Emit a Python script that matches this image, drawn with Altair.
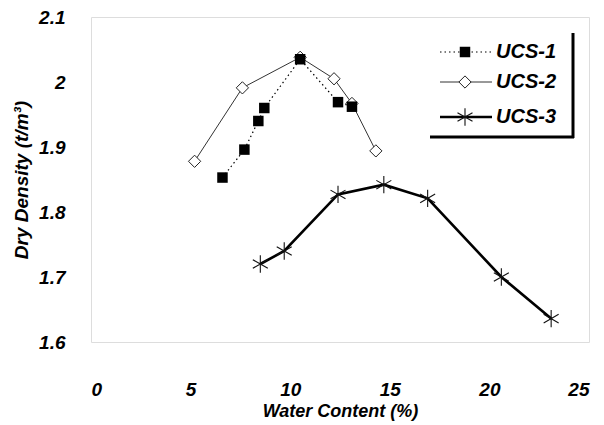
import altair as alt
import pandas as pd

# ---- data ----
ucs1_w = [6.6, 7.7, 8.4, 8.7, 10.5, 12.4, 13.1]
ucs1_d = [1.853, 1.896, 1.940, 1.960, 2.035, 1.969, 1.962]
ucs2_w = [5.2, 7.6, 10.5, 12.2, 13.1, 14.3]
ucs2_d = [1.878, 1.991, 2.038, 2.005, 1.967, 1.894]
ucs3_w = [8.5, 9.7, 12.4, 14.7, 16.9, 20.6, 23.1]
ucs3_d = [1.720, 1.740, 1.827, 1.842, 1.821, 1.700, 1.636]

x_ticks = [0, 5, 10, 15, 20, 25]
y_ticks = [1.6, 1.7, 1.8, 1.9, 2.0, 2.1]
series_names = ["UCS-1", "UCS-2", "UCS-3"]

FONT = "Liberation Sans"
STAR = "M0,-1L0,1M-0.866,-0.5L0.866,0.5M-0.866,0.5L0.866,-0.5"

d1 = pd.DataFrame({"w": ucs1_w, "d": ucs1_d, "i": range(len(ucs1_w))})
d2 = pd.DataFrame({"w": ucs2_w, "d": ucs2_d, "i": range(len(ucs2_w))})
d3 = pd.DataFrame({"w": ucs3_w, "d": ucs3_d, "i": range(len(ucs3_w))})

W, H = 498, 325

xs = alt.X("w:Q", scale=alt.Scale(domain=[0, 25], nice=False),
           axis=alt.Axis(values=x_ticks, title="Water Content (%)", grid=False,
                         ticks=False, domain=False, labelPadding=38,
                         labelFont=FONT, labelFontSize=19, labelFontWeight="bold",
                         labelFontStyle="italic", labelColor="black",
                         titleFont=FONT, titleFontSize=18, titleFontWeight="bold",
                         titleFontStyle="italic", titleColor="black", titlePadding=3))
ys = alt.Y("d:Q", scale=alt.Scale(domain=[1.6, 2.1], nice=False, zero=False),
           axis=alt.Axis(values=y_ticks, format="~g", title="Dry Density (t/m³)",
                         grid=False, ticks=False, domain=False, labelPadding=26,
                         labelFont=FONT, labelFontSize=19, labelFontWeight="bold",
                         labelFontStyle="italic", labelColor="black",
                         titleFont=FONT, titleFontSize=19, titleFontWeight="bold",
                         titleFontStyle="italic", titleColor="black", titlePadding=7))

l1 = alt.Chart(d1).mark_line(color="black", strokeWidth=1.2, strokeDash=[1.5, 3]).encode(x=xs, y=ys, order="i:Q")
p1 = alt.Chart(d1).mark_point(shape="square", filled=True, color="black", size=110, opacity=1).encode(x="w:Q", y="d:Q")
l2 = alt.Chart(d2).mark_line(color="#333333", strokeWidth=1).encode(x="w:Q", y="d:Q", order="i:Q")
p2 = alt.Chart(d2).mark_point(shape="diamond", filled=True, fill="white", stroke="#222222", strokeWidth=1, size=150, opacity=1).encode(x="w:Q", y="d:Q")
l3 = alt.Chart(d3).mark_line(color="black", strokeWidth=2.6).encode(x="w:Q", y="d:Q", order="i:Q")
p3 = alt.Chart(d3).mark_point(shape=STAR, filled=False, stroke="#111111", strokeWidth=1.1, size=300, opacity=1).encode(x="w:Q", y="d:Q")

# ---- legend (drawn by hand to combine line and marker) ----
leg = pd.DataFrame({"name": series_names, "ypix": [35, 65, 100]})
base = alt.Chart(leg)
ll1 = base.transform_filter("datum.name == 'UCS-1'").mark_rule(color="black", strokeWidth=1.2, strokeDash=[1.5, 3]).encode(
    x=alt.value(349), x2=alt.value(401), y=alt.Y("ypix:Q", scale=None))
ll2 = base.transform_filter("datum.name == 'UCS-2'").mark_rule(color="#333333", strokeWidth=1).encode(
    x=alt.value(349), x2=alt.value(401), y=alt.Y("ypix:Q", scale=None))
ll3 = base.transform_filter("datum.name == 'UCS-3'").mark_rule(color="black", strokeWidth=2.6).encode(
    x=alt.value(349), x2=alt.value(401), y=alt.Y("ypix:Q", scale=None))
lp1 = base.transform_filter("datum.name == 'UCS-1'").mark_point(shape="square", filled=True, color="black", size=110, opacity=1).encode(
    x=alt.value(374), y=alt.Y("ypix:Q", scale=None))
lp2 = base.transform_filter("datum.name == 'UCS-2'").mark_point(shape="diamond", filled=True, fill="white", stroke="#222222", strokeWidth=1, size=150, opacity=1).encode(
    x=alt.value(374), y=alt.Y("ypix:Q", scale=None))
lp3 = base.transform_filter("datum.name == 'UCS-3'").mark_point(shape=STAR, filled=False, stroke="#111111", strokeWidth=1.1, size=300, opacity=1).encode(
    x=alt.value(374), y=alt.Y("ypix:Q", scale=None))
lt = base.mark_text(align="left", baseline="middle", font=FONT, fontSize=20, fontWeight="bold",
                    fontStyle="italic", color="black").encode(
    x=alt.value(405), y=alt.Y("ypix:Q", scale=None), text="name:N")
shadow_v = alt.Chart(leg.head(1)).mark_rule(color="black", strokeWidth=3).encode(
    x=alt.value(482), y=alt.value(16), y2=alt.value(121))
shadow_h = alt.Chart(leg.head(1)).mark_rule(color="black", strokeWidth=3).encode(
    x=alt.value(339), x2=alt.value(483), y=alt.value(120))

chart = alt.layer(l1, l2, l3, p2, p1, p3, ll1, ll2, ll3, lp1, lp2, lp3, lt, shadow_v, shadow_h).properties(
    width=W, height=H,
    autosize=alt.AutoSizeParams(type="none"),
    padding={"left": 83, "top": 9, "right": 7, "bottom": 86},
).configure_view(stroke="black", strokeWidth=1.3).configure(background="white")

chart.save("out.html", embed_options={"renderer": "svg", "actions": False})
